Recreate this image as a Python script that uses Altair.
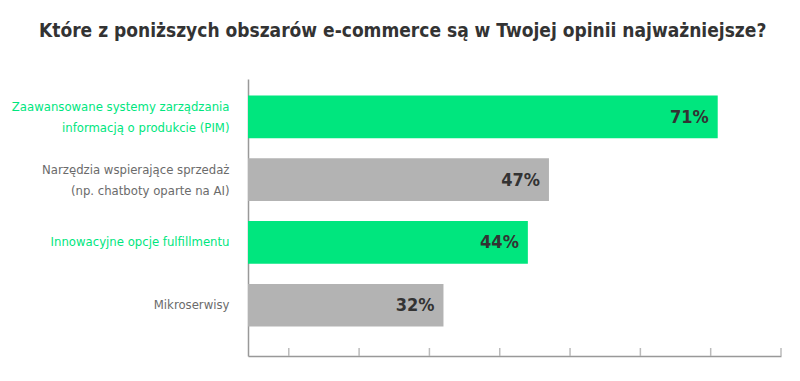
import altair as alt
import pandas as pd

categories = [
    "Zaawansowane systemy  zarządzania|informacją o produkcie (PIM)",
    "Narzędzia wspierające sprzedaż|(np. chatboty oparte na AI)",
    "Innowacyjne opcje fulfillmentu",
    "Mikroserwisy",
]
values = [71, 47, 44, 32]
highlight = [True, False, True, False]
tick_values = [10, 20, 30, 40, 50, 60, 70, 80]

GREEN = "#00e67e"
GREY = "#b3b3b3"
FONT = "DejaVu Sans Condensed, sans-serif"
AXIS_START = 4.2

df = pd.DataFrame({"cat": categories, "value": values, "hl": highlight})
df["label"] = df["value"].astype(str) + "%"
ticks = pd.DataFrame({"t": tick_values})

W, H = 533, 277
xscale = alt.Scale(domain=[AXIS_START, 80], nice=False, zero=False)
yscale = alt.Scale(domain=categories, paddingInner=0.32, paddingOuter=0.366, align=0.36)

label_color = alt.expr(
    "indexof(['" + categories[0] + "','" + categories[2] + "'], datum.value) >= 0 ? '" + GREEN + "' : '#6b6b6b'"
)
label_offset = alt.expr("indexof(datum.value, '|') >= 0 ? -10 : 0")

bars = alt.Chart(df).mark_bar().encode(
    y=alt.Y("cat:N", scale=yscale, sort=categories, title=None,
            axis=alt.Axis(labelExpr="split(datum.label, '|')", labelFont=FONT, labelFontSize=13,
                          labelLineHeight=21, labelPadding=19, ticks=False, domainColor="#999999",
                          domainWidth=1.5, labelColor=label_color, labelOffset=label_offset,
                          labelLimit=300)),
    x=alt.X("value:Q", scale=xscale, title=None, stack=None,
            axis=alt.Axis(values=tick_values, labels=False, ticks=False, grid=False,
                          domainColor="#999999", domainWidth=1.5)),
    x2=alt.datum(AXIS_START),
    color=alt.Color("hl:N", scale=alt.Scale(domain=[True, False], range=[GREEN, GREY]), legend=None),
)

text = alt.Chart(df).mark_text(align="right", baseline="middle", dx=-9, dy=1,
                               font=FONT, fontSize=18, fontWeight="bold", color="#333333").encode(
    y=alt.Y("cat:N", scale=yscale, sort=categories),
    x=alt.X("value:Q", scale=xscale),
    text="label:N",
)

tick_marks = alt.Chart(ticks).mark_rule(color="#bbbbbb", strokeWidth=1.5).encode(
    x=alt.X("t:Q", scale=xscale),
    y=alt.value(H - 8),
    y2=alt.value(H),
)

chart = alt.layer(bars, text, tick_marks).properties(
    width=W, height=H,
    title=alt.TitleParams(
        "Które z poniższych obszarów e-commerce są w Twojej opinii najważniejsze?",
        font=FONT, fontSize=19, fontWeight="bold", color="#333333",
        anchor="start", frame="group", dx=-209, offset=38,
    ),
    autosize=alt.AutoSizeParams(type="none"),
    padding={"left": 240, "top": 71, "right": 10, "bottom": 15},
).configure_view(stroke=None)

chart.save("out.html", embed_options={"renderer": "svg", "actions": False})
